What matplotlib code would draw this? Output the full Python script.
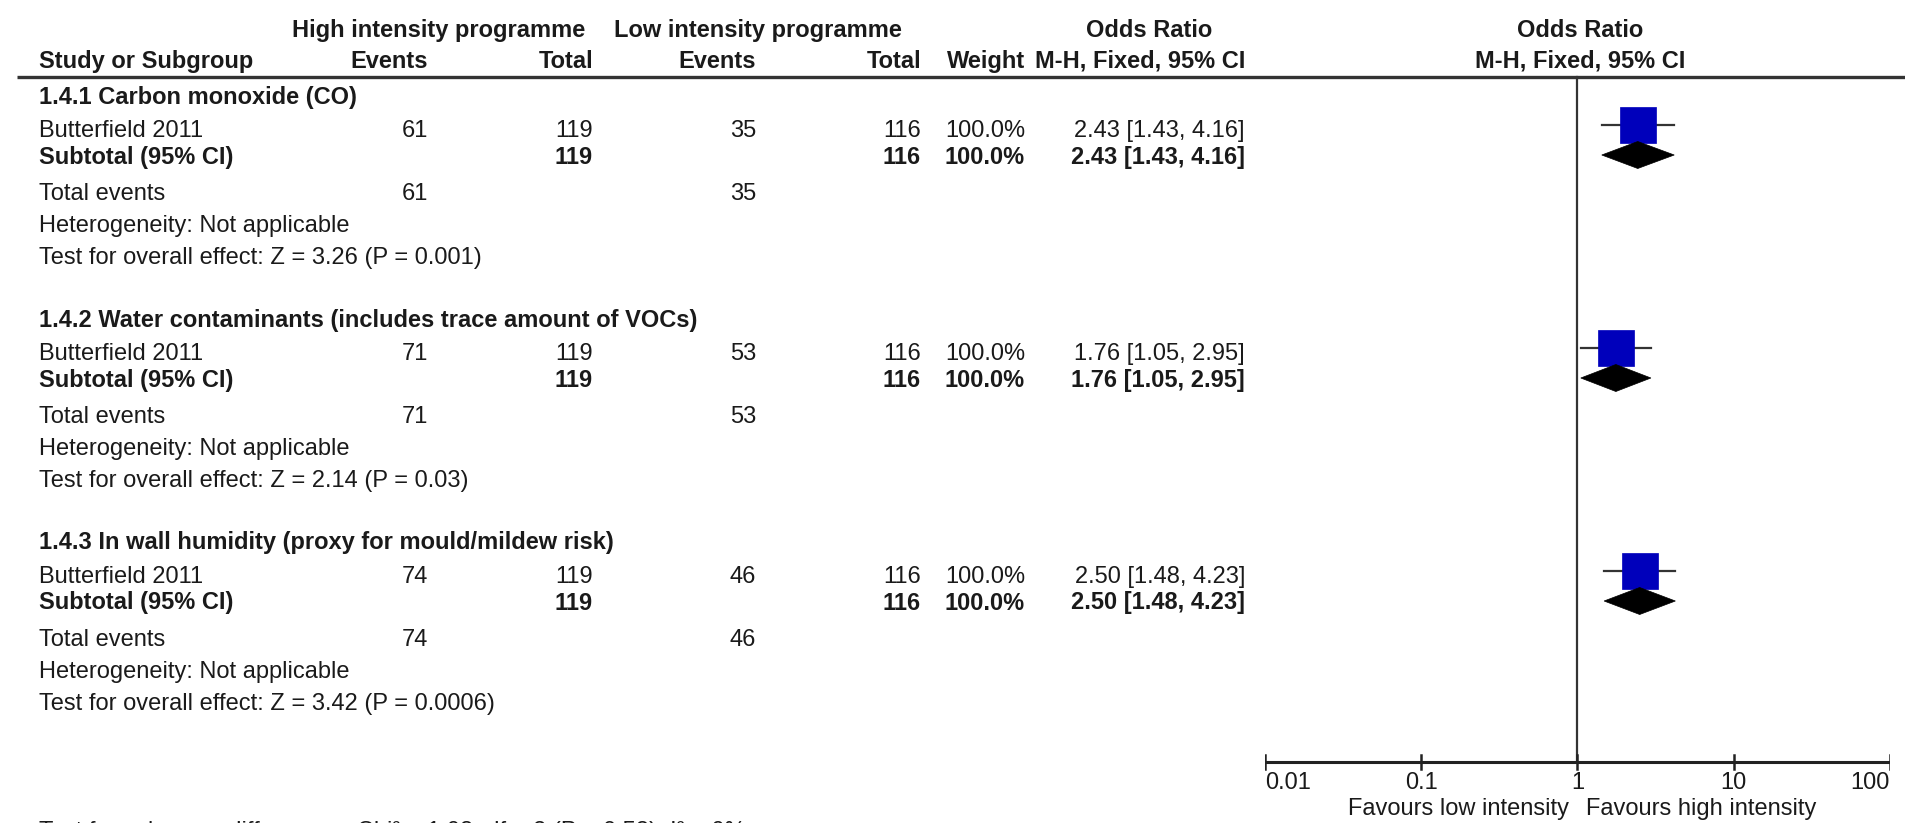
"""Forest plot: high vs low intensity programme, odds ratios by subgroup."""

import matplotlib
matplotlib.use("Agg")
import matplotlib.pyplot as plt
import numpy as np
from matplotlib.patches import Polygon, Rectangle

# ---- data -------------------------------------------------------------
subgroups = [
    "1.4.1 Carbon monoxide (CO)",
    "1.4.2 Water contaminants (includes trace amount of VOCs)",
    "1.4.3 In wall humidity (proxy for mould/mildew risk)",
]
study = "Butterfield 2011"
high_events = [61, 71, 74]
high_total = [119, 119, 119]
low_events = [35, 53, 46]
low_total = [116, 116, 116]
weight = ["100.0%", "100.0%", "100.0%"]
odds_ratio = [2.43, 1.76, 2.50]
ci_low = [1.43, 1.05, 1.48]
ci_high = [4.16, 2.95, 4.23]
z_text = ["Z = 3.26 (P = 0.001)", "Z = 2.14 (P = 0.03)", "Z = 3.42 (P = 0.0006)"]
axis_ticks = [0.01, 0.1, 1, 10, 100]
axis_labels = ["0.01", "0.1", "1", "10", "100"]
subgroup_test = "Test for subgroup differences: Chi\u00b2 = 1.08, df = 2 (P = 0.58), I\u00b2 = 0%"

plt.rcParams["font.family"] = ["Liberation Sans", "DejaVu Sans"]
FS = 17.0
FS_B = 17.0
TXT = "#1a1a1a"

W, H = 1906, 823
fig = plt.figure(figsize=(W / 100, H / 100), dpi=100)
ax = fig.add_axes([0, 0, 1, 1])
ax.set_xlim(0, W)
ax.set_ylim(H, 0)
ax.axis("off")


def put(x, y, s, ha="left", bold=False, va="center"):
    ax.text(x, y, s, ha=ha, va=va, fontsize=FS_B if bold else FS, color=TXT,
            fontweight="bold" if bold else "normal")


# column anchors (pixels)
x_study = 39
x_hev, x_htot, x_lev, x_ltot, x_w, x_or = 428, 593, 756, 921, 1025, 1245

# header
put(439, 30, "High intensity programme", ha="center", bold=True)
put(758, 30, "Low intensity programme", ha="center", bold=True)
put(1149, 30, "Odds Ratio", ha="center", bold=True)
put(1580, 30, "Odds Ratio", ha="center", bold=True)
put(x_study, 61, "Study or Subgroup", bold=True)
put(x_hev, 61, "Events", ha="right", bold=True)
put(x_htot, 61, "Total", ha="right", bold=True)
put(x_lev, 61, "Events", ha="right", bold=True)
put(x_ltot, 61, "Total", ha="right", bold=True)
put(x_w, 61, "Weight", ha="right", bold=True)
put(x_or, 61, "M-H, Fixed, 95% CI", ha="right", bold=True)
put(1580, 61, "M-H, Fixed, 95% CI", ha="center", bold=True)
ax.plot([17, W], [77, 77], color="#333333", lw=2.4, solid_capstyle="butt")

# forest axes: x from 0.01 (px 1265) to 100 (px 1890)
x0, x1 = 1265, 1890
fax = fig.add_axes([x0 / W, 0, (x1 - x0) / W, 1])
fax.set_xscale("log")
fax.set_xlim(0.01, 100)
fax.set_ylim(H, 0)
fax.axis("off")
fax.patch.set_alpha(0)
dec_px = (x1 - x0) / 4.0


def shift(v, px):
    return 10 ** (np.log10(v) + px / dec_px)


group_top = [97, 320, 543]
row_off = [0, 34, 60, 97, 129, 161]

for i, title in enumerate(subgroups):
    y = [group_top[i] + o for o in row_off]
    ci_txt = f"{odds_ratio[i]:.2f} [{ci_low[i]:.2f}, {ci_high[i]:.2f}]"
    put(x_study, y[0], title, bold=True)
    put(x_study, y[1], study)
    put(x_hev, y[1], str(high_events[i]), ha="right")
    put(x_htot, y[1], str(high_total[i]), ha="right")
    put(x_lev, y[1], str(low_events[i]), ha="right")
    put(x_ltot, y[1], str(low_total[i]), ha="right")
    put(x_w, y[1], weight[i], ha="right")
    put(x_or, y[1], ci_txt, ha="right")
    put(x_study, y[2], "Subtotal (95% CI)", bold=True)
    put(x_htot, y[2], str(high_total[i]), ha="right", bold=True)
    put(x_ltot, y[2], str(low_total[i]), ha="right", bold=True)
    put(x_w, y[2], weight[i], ha="right", bold=True)
    put(x_or, y[2], ci_txt, ha="right", bold=True)
    put(x_study, y[3], "Total events")
    put(x_hev, y[3], str(high_events[i]), ha="right")
    put(x_lev, y[3], str(low_events[i]), ha="right")
    put(x_study, y[4], "Heterogeneity: Not applicable")
    put(x_study, y[5], "Test for overall effect: " + z_text[i])

    # study square + CI
    ys = y[1] - 6
    fax.plot([ci_low[i], ci_high[i]], [ys, ys], color="#333333", lw=1.6, zorder=2)
    lo = shift(odds_ratio[i], -18)
    hi = shift(odds_ratio[i], 18)
    fax.add_patch(Rectangle((lo, ys - 18), hi - lo, 36, facecolor="#0000bb",
                            edgecolor="#0000bb", lw=0.5, zorder=3))
    # subtotal diamond
    yd = y[2] - 2
    fax.add_patch(Polygon([(ci_low[i], yd), (odds_ratio[i], yd - 13.5),
                           (ci_high[i], yd), (odds_ratio[i], yd + 13.5)],
                          closed=True, facecolor="black", edgecolor="black",
                          lw=0.5, zorder=4))

# line of no effect and axis
fax.plot([1, 1], [77, 762], color="#333333", lw=1.6, zorder=1)
fax.plot([0.01, 100], [762, 762], color="#222222", lw=2.2, solid_capstyle="butt")
for t, lab in zip(axis_ticks, axis_labels):
    fax.plot([t, t], [755, 769], color="#222222", lw=1.8)
    ha = "left" if t == axis_ticks[0] else ("right" if t == axis_ticks[-1] else "center")
    fax.text(t, 783, lab, ha=ha, va="center", fontsize=FS, color=TXT)
fax.text(shift(1, -8), 809, "Favours low intensity", ha="right", va="center",
         fontsize=FS, color=TXT)
fax.text(shift(1, 9), 809, "Favours high intensity", ha="left", va="center",
         fontsize=FS, color=TXT)

# only the top edge of this line shows in the reference
put(x_study, 821, subgroup_test, va="top")

fig.savefig("out.png", dpi=100)
